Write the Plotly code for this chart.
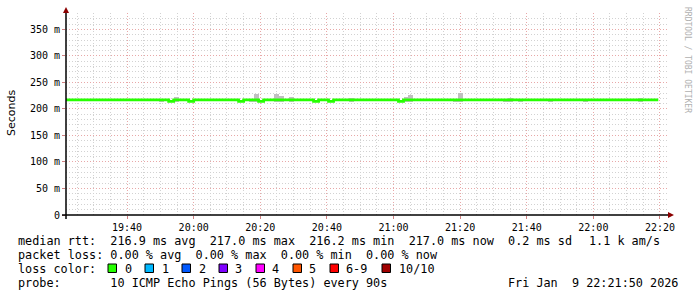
import plotly.graph_objects as go

# ---------------- data ----------------
x_start = "2026-01-09 19:21:40"
x_end = "2026-01-09 22:22:25"

# median rtt (ms) at change points, drawn as a step line
median_times = ["2026-01-09 19:21:40", "2026-01-09 19:52:30", "2026-01-09 19:54:00",
                "2026-01-09 19:58:30", "2026-01-09 20:00:00", "2026-01-09 20:13:30",
                "2026-01-09 20:15:00", "2026-01-09 20:19:30", "2026-01-09 20:21:00",
                "2026-01-09 20:36:00", "2026-01-09 20:37:30", "2026-01-09 20:40:30",
                "2026-01-09 20:42:00", "2026-01-09 21:01:30", "2026-01-09 21:03:00",
                "2026-01-09 22:19:30"]
median_ms = [217.0, 214.5, 217.0, 214.5, 217.0, 214.5, 217.0, 214.5, 217.0,
             214.5, 217.0, 214.5, 217.0, 214.5, 217.0, 217.0]

# smoke (ping spread) visible above the median: interval start and top (ms)
smoke_times = ["2026-01-09 19:49:30", "2026-01-09 19:54:00", "2026-01-09 20:16:30",
               "2026-01-09 20:18:00", "2026-01-09 20:24:00", "2026-01-09 20:25:30",
               "2026-01-09 20:28:30", "2026-01-09 20:46:30", "2026-01-09 21:03:00",
               "2026-01-09 21:04:30", "2026-01-09 21:18:00", "2026-01-09 21:19:30",
               "2026-01-09 21:33:00", "2026-01-09 21:34:30", "2026-01-09 21:37:30",
               "2026-01-09 21:46:30", "2026-01-09 21:57:00", "2026-01-09 22:13:30"]
smoke_top_ms = [219.5, 222.0, 219.5, 229.0, 229.0, 224.0, 222.0, 221.0, 222.5,
                226.0, 219.5, 230.0, 219.5, 221.0, 219.5, 219.5, 219.5, 221.0]
smoke_base_ms = 214.0
step_ms = 90000

y_tick_vals = [0, 50, 100, 150, 200, 250, 300, 350]
y_tick_text = ["0", "50 m", "100 m", "150 m", "200 m", "250 m", "300 m", "350 m"]
x_tick0 = "2026-01-09 19:40:00"

stats_line1 = "median rtt:  216.9 ms avg  217.0 ms max  216.2 ms min  217.0 ms now  0.2 ms sd"
stats_line1_tail = "1.1 k am/s"
stats_line2 = "packet loss: 0.00 % avg  0.00 % max  0.00 % min  0.00 % now"
stats_line3 = "loss color:"
stats_line4 = "probe:       10 ICMP Echo Pings (56 Bytes) every 90s"
date_text = "Fri Jan  9 22:21:50 2026"
loss_labels = ["0", "1", "2", "3", "4", "5", "6-9", "10/10"]
loss_colors = ["#26ff00", "#00b8ff", "#0059ff", "#7e00ff", "#ff00ff", "#ff5500", "#ff0000", "#a00000"]
y_title = "Seconds"
watermark = "RRDTOOL / TOBI OETIKER"

# ---------------- layout geometry (pixels) ----------------
W, H = 697, 297
PL, PR, PT, PB = 66, 668, 13, 215
pw, ph = PR - PL, PB - PT


def px(x):
    return (x - PL) / pw


def py(y):
    return (PB - y) / ph


MONO = "DejaVu Sans Mono"
LEG_SIZE = 11.8

fig = go.Figure()

fig.add_trace(go.Bar(
    x=smoke_times,
    y=[t - smoke_base_ms for t in smoke_top_ms],
    base=smoke_base_ms,
    width=step_ms,
    offset=0,
    marker=dict(color="#c0c0c0", line=dict(width=0)),
    showlegend=False,
    hoverinfo="skip",
))

fig.add_trace(go.Scatter(
    x=median_times, y=median_ms, mode="lines",
    line=dict(color=loss_colors[0], width=2.8, shape="hv"),
    showlegend=False,
))

fig.update_layout(
    width=W, height=H, autosize=False,
    margin=dict(l=PL, r=W - PR, t=PT, b=H - PB, pad=0),
    paper_bgcolor="white", plot_bgcolor="white",
    bargap=0,
    font=dict(family=MONO, size=10, color="#000000"),
)

fig.update_xaxes(
    type="date", range=[x_start, x_end],
    tick0=x_tick0, dtick=20 * 60 * 1000, tickformat="%H:%M",
    showgrid=True, gridcolor="#e8a8a8", griddash="1px,2px", gridwidth=1,
    minor=dict(dtick=5 * 60 * 1000, tick0=x_tick0, showgrid=True,
               gridcolor="#d2d2d2", griddash="1px,2px", gridwidth=1),
    ticks="outside", ticklen=3, tickcolor="#d08080", tickwidth=1,
    showline=False, zeroline=False,
    tickfont=dict(family=MONO, size=10, color="#000000"),
    fixedrange=True,
)
fig.update_yaxes(
    range=[0, 381], tickvals=y_tick_vals, ticktext=y_tick_text,
    showgrid=True, gridcolor="#e8a8a8", griddash="1px,2px", gridwidth=1,
    minor=dict(dtick=10, tick0=0, showgrid=True,
               gridcolor="#d2d2d2", griddash="1px,2px", gridwidth=1),
    ticks="outside", ticklen=3, tickcolor="#d08080", tickwidth=1,
    showline=False, zeroline=False,
    tickfont=dict(family=MONO, size=10, color="#000000"),
    fixedrange=True,
)

shapes = []
# axes with arrows
shapes.append(dict(type="line", xref="paper", yref="paper",
                   x0=px(62), x1=px(669), y0=py(215), y1=py(215),
                   line=dict(color="#000000", width=1.5)))
shapes.append(dict(type="line", xref="paper", yref="paper",
                   x0=px(66), x1=px(66), y0=py(219), y1=py(10),
                   line=dict(color="#000000", width=1.5)))
shapes.append(dict(type="path", xref="paper", yref="paper",
                   path=f"M {px(668)} {py(212)} L {px(674)} {py(215)} L {px(668)} {py(218)} Z",
                   fillcolor="#8b0000", line=dict(width=0)))
shapes.append(dict(type="path", xref="paper", yref="paper",
                   path=f"M {px(63)} {py(13)} L {px(66)} {py(7)} L {px(69)} {py(13)} Z",
                   fillcolor="#8b0000", line=dict(width=0)))

annotations = []


def leg_text(txt, x, y, anchor="left"):
    annotations.append(dict(xref="paper", yref="paper", x=px(x), y=py(y),
                            xanchor=anchor, yanchor="middle", showarrow=False,
                            text=txt.replace(" ", "&nbsp;"),
                            font=dict(family=MONO, size=LEG_SIZE, color="#000000")))


leg_text(stats_line1, 16, 241)
leg_text(stats_line1_tail, 587, 241)
leg_text(stats_line2, 16, 255)
leg_text(stats_line3, 16, 269)
leg_text(stats_line4, 16, 283)
leg_text(date_text, 680, 283, anchor="right")

box_x = [108, 145, 182, 219, 256, 293, 330, 382]
label_x = [123, 160, 197, 233, 270, 307, 344, 397]
for lab, col, bx, lx in zip(loss_labels, loss_colors, box_x, label_x):
    shapes.append(dict(type="rect", xref="paper", yref="paper",
                       x0=px(bx), x1=px(bx + 8.5), y0=py(264), y1=py(272.5),
                       fillcolor=col, line=dict(color="#000000", width=1)))
    leg_text(lab, lx, 269)

annotations.append(dict(xref="paper", yref="paper", x=px(11), y=py(113),
                        xanchor="center", yanchor="middle", showarrow=False,
                        text=y_title, textangle=-90,
                        font=dict(family="DejaVu Sans", size=11, color="#000000")))
annotations.append(dict(xref="paper", yref="paper", x=px(687), y=py(5),
                        xanchor="center", yanchor="top", showarrow=False,
                        text=watermark, textangle=90,
                        font=dict(family=MONO, size=8, color="#b0b0b0")))

fig.update_layout(shapes=shapes, annotations=annotations)

fig.write_html("out.html")
